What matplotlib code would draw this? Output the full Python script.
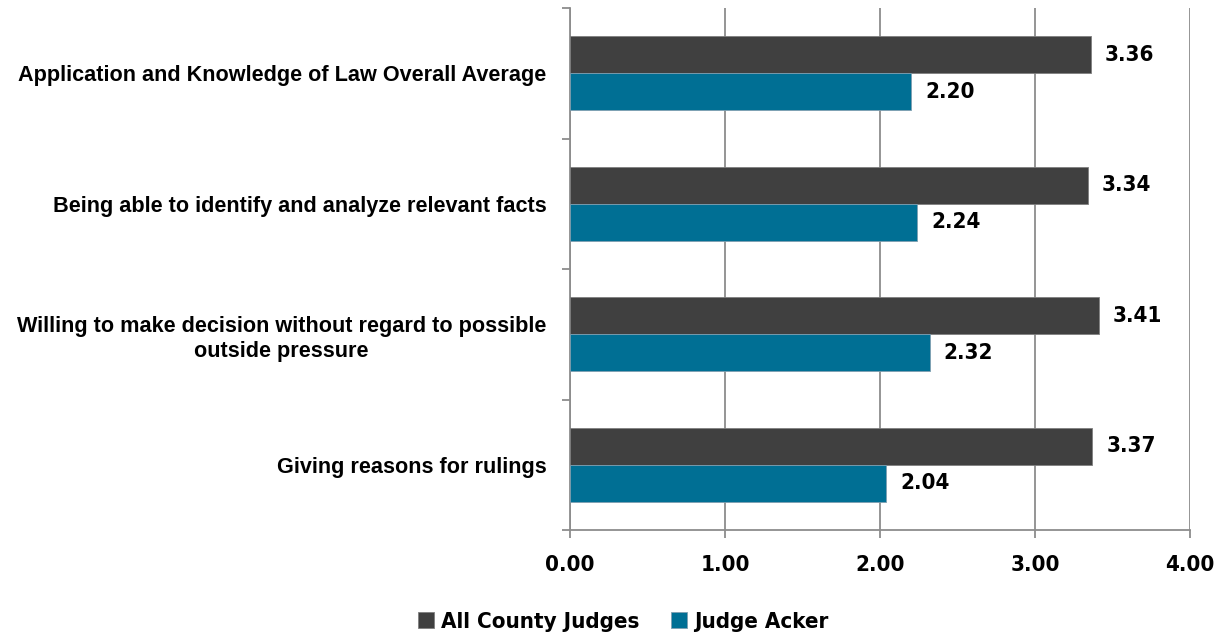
import matplotlib
matplotlib.use("Agg")
import matplotlib.pyplot as plt
from matplotlib import font_manager
import numpy as np

categories = [
    "Application and Knowledge of Law Overall Average",
    "Being able to identify and analyze relevant facts",
    "Willing to make decision without regard to possible\noutside pressure",
    "Giving reasons for rulings",
]
all_judges = [3.36, 3.34, 3.41, 3.37]
judge_acker = [2.20, 2.24, 2.32, 2.04]
series_names = ["All County Judges", "Judge Acker"]
x_ticks = [0, 1, 2, 3, 4]

dark = "#404040"
teal = "#006f94"
grid_c = "#8c8c8c"
wide = ["Liberation Sans", "DejaVu Sans"]

names = {f.name for f in font_manager.fontManager.ttflist}
cond = [f for f in font_manager.fontManager.ttflist
        if "Condensed" in f.fname or "Narrow" in f.fname]
if "Liberation Sans Narrow" in names:
    num_font = dict(family=["Liberation Sans Narrow", "DejaVu Sans"], stretch="normal")
elif any("DejaVuSansCondensed" in f.fname for f in cond):
    num_font = dict(family=["DejaVu Sans"], stretch="condensed")
else:
    num_font = dict(family=["Liberation Sans", "DejaVu Sans"], stretch="normal")

fig = plt.figure(figsize=(12.21, 6.37), dpi=100)
ax = fig.add_axes([570/1221, (637-530)/637, (1190-570)/1221, 522/637])

n = len(categories)
centers = np.arange(n)[::-1] + 0.5
h = 0.285
ax.barh(centers + h/2, all_judges, height=h, color=dark, edgecolor="#7f7f7f", linewidth=0.6, zorder=3, label=series_names[0])
ax.barh(centers - h/2, judge_acker, height=h, color=teal, edgecolor="#7f9fb0", linewidth=0.6, zorder=3, label=series_names[1])

for c, v in list(zip(centers + h/2, all_judges)) + list(zip(centers - h/2, judge_acker)):
    ax.text(v + 0.09, c, f"{v:.2f}", va="center", ha="left", fontsize=16, fontweight="bold",
            zorder=4, bbox=dict(facecolor="white", edgecolor="none", pad=3), **num_font)

ax.set_xlim(0, 4)
ax.set_ylim(0, n)
ax.set_xticks(x_ticks)
ax.set_xticklabels([f"{t:.2f}" for t in x_ticks], fontsize=16, fontweight="bold", **num_font)
ax.tick_params(axis="x", length=6, color=grid_c, width=1.3, pad=12)
ax.xaxis.grid(True, color=grid_c, linewidth=1.3, zorder=0)

ax.set_yticks(np.arange(n + 1))
ax.set_yticklabels([])
ax.set_yticks(centers, minor=True)
ax.set_yticklabels(categories, minor=True)
ax.tick_params(axis="y", which="major", length=6, color=grid_c, width=1.3)
ax.tick_params(axis="y", which="minor", length=0, pad=17)
for lbl in ax.get_yticklabels(minor=True):
    lbl.set_fontsize(15.6)
    lbl.set_fontweight("bold")
    lbl.set_family(wide)
    lbl.set_multialignment("center")
    lbl.set_linespacing(1.25)

for s in ["top", "right"]:
    ax.spines[s].set_visible(False)
for s in ["left", "bottom"]:
    ax.spines[s].set_color(grid_c)
    ax.spines[s].set_linewidth(1.3)

fig.legend(loc="center", bbox_to_anchor=(623/1221, 1 - 622/637), ncol=2, frameon=False,
           prop=dict(size=16, weight="bold", **num_font), handlelength=0.75, handleheight=0.75,
           handletextpad=0.3, columnspacing=1.4)

fig.savefig("out.png", dpi=100)
